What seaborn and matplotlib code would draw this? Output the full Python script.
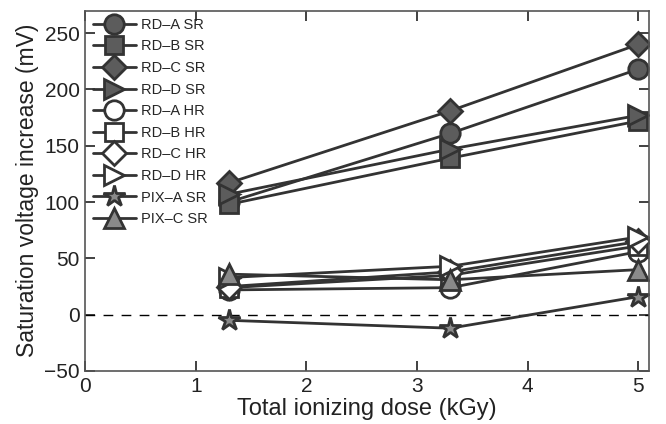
import numpy as np
import pandas as pd
import seaborn as sns
import matplotlib
matplotlib.use("Agg")
import matplotlib.pyplot as plt

sns.set_style("white", {"xtick.bottom": True, "ytick.left": True,
                        "xtick.top": True, "ytick.right": True,
                        "xtick.direction": "in", "ytick.direction": "in"})
plt.rcParams['font.family'] = ['Liberation Sans', 'DejaVu Sans']
plt.rcParams['axes.unicode_minus'] = True

# data
dose = [1.3, 3.3, 5.0]
labels = ["RD\u2013A SR", "RD\u2013B SR", "RD\u2013C SR", "RD\u2013D SR",
          "RD\u2013A HR", "RD\u2013B HR", "RD\u2013C HR", "RD\u2013D HR",
          "PIX\u2013A SR", "PIX\u2013C SR"]
rd_a_sr = [100, 161, 218]
rd_b_sr = [98, 139, 172]
rd_c_sr = [117, 181, 240]
rd_d_sr = [107, 147, 177]
rd_a_hr = [22, 24, 56]
rd_b_hr = [24, 35, 61]
rd_c_hr = [25, 38, 65]
rd_d_hr = [33, 43, 69]
pix_a_sr = [-5, -12, 16]
pix_c_sr = [36, 31, 40]
values = [rd_a_sr, rd_b_sr, rd_c_sr, rd_d_sr, rd_a_hr, rd_b_hr,
          rd_c_hr, rd_d_hr, pix_a_sr, pix_c_sr]

markers = ['o', 's', 'D', '>', 'o', 's', 'D', '>', '*', '^']
faces = ['#5c5c5c'] * 4 + ['white'] * 4 + ['#8a8a8a', '#8a8a8a']
sizes = [14, 13, 12, 14, 14, 13, 12, 14, 16, 15]

df = pd.DataFrame({
    "dose": np.tile(dose, len(labels)),
    "val": np.concatenate(values),
    "series": np.repeat(labels, len(dose)),
})

fig = plt.figure(figsize=(6.66, 4.24), dpi=100)
ax = fig.add_axes([0.128, 0.125, 0.847, 0.85])

ax.axhline(0, color='black', lw=1, ls=(0, (7, 6)), zorder=1)

for lab, m, fc, ms in zip(labels, markers, faces, sizes):
    sub = df[df["series"] == lab]
    sns.lineplot(data=sub, x="dose", y="val", ax=ax, color='#333333',
                 lw=2, marker=m, markersize=ms, markerfacecolor=fc,
                 markeredgecolor='#333333', markeredgewidth=2, label=lab,
                 zorder=3)

ax.set_xlim(0, 5.1)
ax.set_ylim(-50, 270)
ax.set_xticks([0, 1, 2, 3, 4, 5])
ax.set_yticks([-50, 0, 50, 100, 150, 200, 250])
ax.tick_params(which='major', direction='in', length=7, width=1.3,
               labelsize=15, color='#333333', labelcolor='#222222',
               bottom=True, left=True, top=True, right=True, pad=4)
for s in ax.spines.values():
    s.set_color('#555555')
    s.set_linewidth(1.2)
    s.set_zorder(5)
ax.set_xlabel("Total ionizing dose (kGy)", fontsize=17, color='#222222',
              labelpad=2)
ax.set_ylabel("Saturation voltage increase (mV)", fontsize=16.5,
              color='#222222', labelpad=4)

ax.legend(loc='upper left', frameon=False, fontsize=10.5, handlelength=3.0,
          labelspacing=0.52, borderaxespad=0.4, handletextpad=0.3,
          borderpad=0.1)

plt.savefig("out.png", dpi=100)
